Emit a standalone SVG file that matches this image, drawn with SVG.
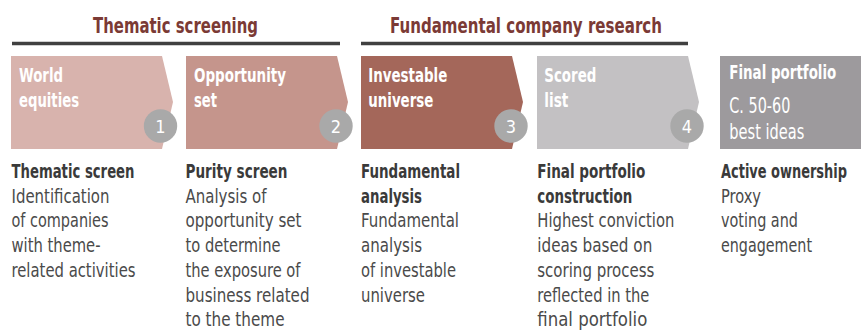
<svg xmlns="http://www.w3.org/2000/svg" width="861" height="333" viewBox="0 0 861 333">
<style>
text{font-family:"Liberation Sans Narrow","DejaVu Sans Condensed","Liberation Sans",Arial,sans-serif}
.title{font-size:22px;font-weight:bold;fill:#7b3a35}
.bar{stroke:#404040;stroke-width:3.5}
.lbl{font-size:20px;font-weight:bold;fill:#ffffff}
.lbl5{font-size:19px;font-weight:bold;fill:#ffffff}
.big{font-size:22px;fill:#ffffff}
.num{font-size:18px;fill:#ffffff;text-anchor:middle}
.badge{fill:#a9a9a9}
.hd{font-size:19px;font-weight:bold;fill:#3a3a3a}
.bd{font-size:19px;fill:#4a4a4a}
</style>
<g id="header-thematic">
<text class="title" x="93" y="33" textLength="165" lengthAdjust="spacingAndGlyphs">Thematic screening</text>
<line class="bar" x1="12" y1="43.5" x2="340" y2="43.5"/>
</g>
<g id="header-fundamental">
<text class="title" x="390" y="33" textLength="272" lengthAdjust="spacingAndGlyphs">Fundamental company research</text>
<line class="bar" x1="361" y1="43.5" x2="688" y2="43.5"/>
</g>
<g id="node1">
<path d="M11,56 H162 L173,102 L162,149 H11 Z" fill="#d8b3ad"/>
<text class="lbl" x="19" y="82" textLength="44" lengthAdjust="spacingAndGlyphs">World</text>
<text class="lbl" x="19" y="107" textLength="60" lengthAdjust="spacingAndGlyphs">equities</text>
<circle class="badge" cx="160.5" cy="126" r="16.7"/>
<text class="num" x="160.5" y="132.5">1</text>
<text class="hd" x="11.5" y="178" textLength="123" lengthAdjust="spacingAndGlyphs">Thematic screen</text>
<text class="bd" x="11.5" y="202.7" textLength="98" lengthAdjust="spacingAndGlyphs">Identification</text>
<text class="bd" x="11.5" y="227.4" textLength="97" lengthAdjust="spacingAndGlyphs">of companies</text>
<text class="bd" x="11.5" y="252.1" textLength="89" lengthAdjust="spacingAndGlyphs">with theme-</text>
<text class="bd" x="11.5" y="276.8" textLength="124" lengthAdjust="spacingAndGlyphs">related activities</text>
</g>
<g id="node2">
<path d="M186,56 H337 L348,102 L337,149 H186 Z" fill="#c5958c"/>
<text class="lbl" x="194" y="82" textLength="92" lengthAdjust="spacingAndGlyphs">Opportunity</text>
<text class="lbl" x="194" y="107" textLength="23" lengthAdjust="spacingAndGlyphs">set</text>
<circle class="badge" cx="336" cy="126" r="16.7"/>
<text class="num" x="336" y="132.5">2</text>
<text class="hd" x="185.5" y="178" textLength="102" lengthAdjust="spacingAndGlyphs">Purity screen</text>
<text class="bd" x="185.5" y="202.7" textLength="81" lengthAdjust="spacingAndGlyphs">Analysis of</text>
<text class="bd" x="185.5" y="227.4" textLength="116" lengthAdjust="spacingAndGlyphs">opportunity set</text>
<text class="bd" x="185.5" y="252.1" textLength="95" lengthAdjust="spacingAndGlyphs">to determine</text>
<text class="bd" x="185.5" y="276.8" textLength="115" lengthAdjust="spacingAndGlyphs">the exposure of</text>
<text class="bd" x="185.5" y="301.5" textLength="124" lengthAdjust="spacingAndGlyphs">business related</text>
<text class="bd" x="185.5" y="326.2" textLength="99" lengthAdjust="spacingAndGlyphs">to the theme</text>
</g>
<g id="node3">
<path d="M361,56 H512 L523,102 L512,149 H361 Z" fill="#a4675a"/>
<text class="lbl" x="368.3" y="82" textLength="79" lengthAdjust="spacingAndGlyphs">Investable</text>
<text class="lbl" x="368.3" y="107" textLength="65" lengthAdjust="spacingAndGlyphs">universe</text>
<circle class="badge" cx="511" cy="126" r="16.7"/>
<text class="num" x="511" y="132.5">3</text>
<text class="hd" x="361" y="178" textLength="99" lengthAdjust="spacingAndGlyphs">Fundamental</text>
<text class="hd" x="361" y="202.7" textLength="61" lengthAdjust="spacingAndGlyphs">analysis</text>
<text class="bd" x="361" y="227.4" textLength="98" lengthAdjust="spacingAndGlyphs">Fundamental</text>
<text class="bd" x="361" y="252.1" textLength="61" lengthAdjust="spacingAndGlyphs">analysis</text>
<text class="bd" x="361" y="276.8" textLength="95" lengthAdjust="spacingAndGlyphs">of investable</text>
<text class="bd" x="361" y="301.5" textLength="64" lengthAdjust="spacingAndGlyphs">universe</text>
</g>
<g id="node4">
<path d="M537,56 H688 L699,102 L688,149 H537 Z" fill="#c3c1c3"/>
<text class="lbl" x="544.3" y="82" textLength="52" lengthAdjust="spacingAndGlyphs">Scored</text>
<text class="lbl" x="544.3" y="107" textLength="24" lengthAdjust="spacingAndGlyphs">list</text>
<circle class="badge" cx="687" cy="126" r="16.7"/>
<text class="num" x="687" y="132.5">4</text>
<text class="hd" x="537.3" y="178" textLength="108" lengthAdjust="spacingAndGlyphs">Final portfolio</text>
<text class="hd" x="537.3" y="202.7" textLength="95" lengthAdjust="spacingAndGlyphs">construction</text>
<text class="bd" x="537.3" y="227.4" textLength="137" lengthAdjust="spacingAndGlyphs">Highest conviction</text>
<text class="bd" x="537.3" y="252.1" textLength="115" lengthAdjust="spacingAndGlyphs">ideas based on</text>
<text class="bd" x="537.3" y="276.8" textLength="117" lengthAdjust="spacingAndGlyphs">scoring process</text>
<text class="bd" x="537.3" y="301.5" textLength="112" lengthAdjust="spacingAndGlyphs">reflected in the</text>
<text class="bd" x="537.3" y="326.2" textLength="110" lengthAdjust="spacingAndGlyphs">final portfolio</text>
</g>
<g id="node5">
<rect x="720" y="56" width="141" height="93" fill="#9d9a9d"/>
<text class="lbl5" transform="translate(729.3,79) scale(0.72,1)" x="0" y="0" textLength="148.6" lengthAdjust="spacingAndGlyphs">Final portfolio</text>
<text class="big" x="729.3" y="112.7" textLength="61" lengthAdjust="spacingAndGlyphs">C. 50-60</text>
<text class="big" x="729.3" y="139" textLength="75" lengthAdjust="spacingAndGlyphs">best ideas</text>
<text class="hd" transform="translate(721,178) scale(0.75,1)" x="0" y="0" textLength="168" lengthAdjust="spacingAndGlyphs">Active ownership</text>
<text class="bd" x="721" y="202.7" textLength="40" lengthAdjust="spacingAndGlyphs">Proxy</text>
<text class="bd" x="721" y="227.4" textLength="77" lengthAdjust="spacingAndGlyphs">voting and</text>
<text class="bd" x="721" y="252.1" textLength="91" lengthAdjust="spacingAndGlyphs">engagement</text>
</g>
<g id="connectors"/>
</svg>
